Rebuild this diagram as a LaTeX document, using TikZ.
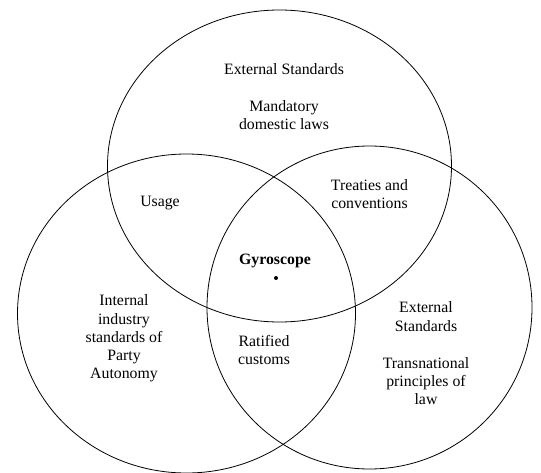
\documentclass[tikz,border=0pt]{standalone}
\usepackage{fontspec}
\setmainfont{Liberation Serif}
\begin{document}
\begin{tikzpicture}[x=1pt,y=-1pt,
  ring/.style={draw=black,line width=0.8pt},
  label/.style={align=center,inner sep=0pt,font=\fontsize{15.8}{18.2}\selectfont}]
\useasboundingbox (0,0) rectangle (541,473);
% three overlapping sets
\draw[ring] (279.5,166) ellipse [x radius=172, y radius=156];
\draw[ring] (186.5,313.5) ellipse [x radius=169, y radius=159.5];
\draw[ring] (369.5,307.5) ellipse [x radius=162.5, y radius=161.5];
% region labels
\node[label] (ext1) at (284,69) {External Standards};
\node[label] (mand) at (284,115) {Mandatory\\domestic laws};
\node[label] (usage) at (160,203) {Usage};
\node[label] (treat) at (369.5,194) {Treaties and\\conventions};
\node[label,font=\fontsize{15.8}{18.2}\selectfont\bfseries] (gyro) at (275,261) {Gyroscope};
\node[circle,fill=black,inner sep=0pt,minimum size=4pt] (centre) at (276,278) {};
\node[label] (intl) at (124,338.5) {Internal\\industry\\standards of\\Party\\Autonomy};
\node[label] (ratif) at (264,350) {Ratified\\customs};
\node[label] (ext2) at (426,316.5) {External\\Standards};
\node[label] (trans) at (426,381) {Transnational\\principles of\\law};
\end{tikzpicture}
\end{document}
